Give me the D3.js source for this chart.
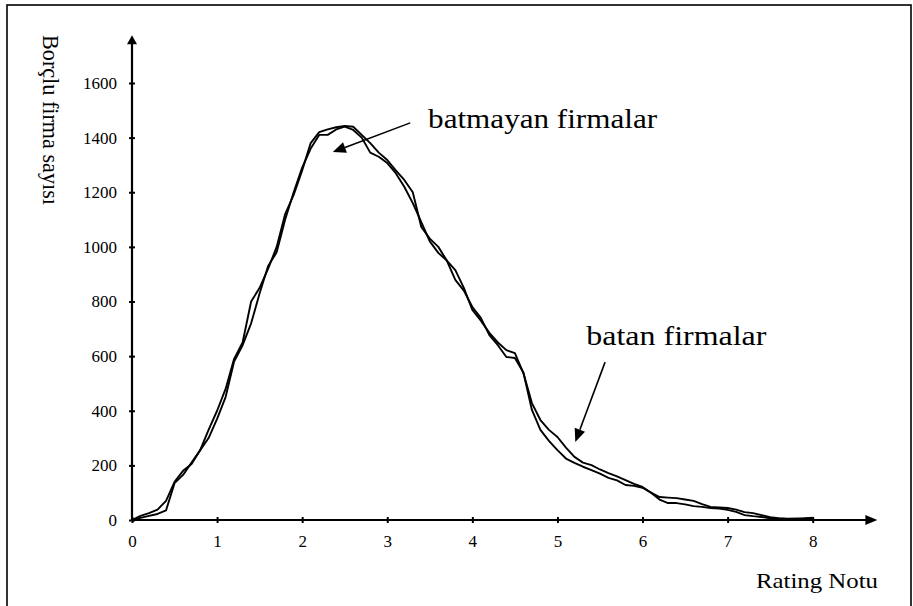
<!DOCTYPE html>
<html>
<head>
<meta charset="utf-8">
<script src="https://cdn.jsdelivr.net/npm/d3@7/dist/d3.min.js"></script>
<style>
  html, body { margin: 0; padding: 0; background: #fff; }
  svg { display: block; }
</style>
</head>
<body>
<svg id="chart" width="913" height="606" font-family="Liberation Serif"></svg>
<script>
// ---- data ----
const ratingNotu = [0.0,0.1,0.2,0.3,0.4,0.5,0.6,0.7,0.8,0.9,
  1.0,1.1,1.2,1.3,1.4,1.5,1.6,1.7,1.8,1.9,
  2.0,2.1,2.2,2.3,2.4,2.5,2.6,2.7,2.8,2.9,
  3.0,3.1,3.2,3.3,3.4,3.5,3.6,3.7,3.8,3.9,
  4.0,4.1,4.2,4.3,4.4,4.5,4.6,4.7,4.8,4.9,
  5.0,5.1,5.2,5.3,5.4,5.5,5.6,5.7,5.8,5.9,
  6.0,6.1,6.2,6.3,6.4,6.5,6.6,6.7,6.8,6.9,
  7.0,7.1,7.2,7.3,7.4,7.5,7.6,7.7,7.8,7.9,8.0];

const batanFirmalar = [0,15,25,38,70,140,180,205,255,330,
  400,480,590,650,800,850,920,1000,1120,1190,
  1280,1380,1420,1430,1438,1443,1440,1410,1380,1345,
  1318,1280,1245,1200,1073,1030,1000,950,915,850,
  769,730,685,650,622,611,538,428,366,330,
  304,265,231,210,201,185,172,160,146,132,
  121,100,84,82,80,75,70,58,48,46,
  44,38,29,25,18,10,7,5,5,6,7];

const batmayanFirmalar = [0,8,15,22,35,135,165,210,255,300,
  370,450,580,640,720,830,930,980,1100,1200,
  1290,1360,1410,1410,1430,1440,1428,1400,1345,1330,
  1307,1270,1220,1160,1091,1020,978,950,879,840,
  780,740,677,640,597,593,540,403,330,290,
  256,225,209,195,183,170,154,145,128,125,
  118,100,75,62,62,57,51,48,44,42,
  37,30,18,14,11,6,5,4,5,6,8];

const xTicks = [0,1,2,3,4,5,6,7,8];
const yTicks = [0,200,400,600,800,1000,1200,1400,1600];

// ---- layout ----
const FONT = "Liberation Serif";
const svg = d3.select("#chart");
const x = d3.scaleLinear().domain([0, 8]).range([132, 812.7]);
const y = d3.scaleLinear().domain([0, 1600]).range([520, 83]);

// frame
svg.append("rect")
  .attr("x", 7).attr("y", 5).attr("width", 904).attr("height", 606)
  .attr("fill", "none").attr("stroke", "#000").attr("stroke-width", 1.6);

// x axis
const xAxis = svg.append("g").attr("transform", `translate(0,${y(0)})`)
  .call(d3.axisBottom(x).tickValues(xTicks).tickSize(3).tickPadding(12).tickFormat(d3.format("d")));
xAxis.attr("font-family", FONT).attr("font-size", null);
xAxis.select(".domain").remove();
xAxis.selectAll(".tick line").attr("y1", -3).attr("y2", 3).attr("stroke-width", 2);
xAxis.selectAll("text").attr("font-size", "17px").attr("font-family", FONT).attr("fill", "#000");

// y axis
const yAxis = svg.append("g").attr("transform", `translate(${x(0)},0)`)
  .call(d3.axisLeft(y).tickValues(yTicks).tickSize(3).tickPadding(12).tickFormat(d3.format("d")));
yAxis.attr("font-family", FONT).attr("font-size", null);
yAxis.select(".domain").remove();
yAxis.selectAll(".tick line").attr("x1", -3).attr("x2", 3).attr("stroke-width", 2);
yAxis.selectAll("text").attr("font-size", "17px").attr("font-family", FONT).attr("fill", "#000");

// axis lines with arrow heads
const xEnd = x(8.76), yEnd = y(1775);
svg.append("line").attr("x1", x(0)).attr("y1", y(0)).attr("x2", xEnd - 10).attr("y2", y(0))
  .attr("stroke", "#000").attr("stroke-width", 2.2);
svg.append("path")
  .attr("d", `M${xEnd},${y(0)} L${xEnd - 12},${y(0) - 5} L${xEnd - 12},${y(0) + 5} Z`)
  .attr("fill", "#000");
svg.append("line").attr("x1", x(0)).attr("y1", y(0)).attr("x2", x(0)).attr("y2", yEnd + 8)
  .attr("stroke", "#000").attr("stroke-width", 2.2);
svg.append("path")
  .attr("d", `M${x(0)},${yEnd} L${x(0) - 5},${yEnd + 9} L${x(0) + 5},${yEnd + 9} Z`)
  .attr("fill", "#000");

// series lines
const line = d3.line()
  .x((d, i) => x(ratingNotu[i]))
  .y(d => y(d))
  .curve(d3.curveLinear);

[batanFirmalar, batmayanFirmalar].forEach(series => {
  svg.append("path")
    .datum(series)
    .attr("d", line)
    .attr("fill", "none")
    .attr("stroke", "#000")
    .attr("stroke-width", 1.9)
    .attr("stroke-linejoin", "round");
});

// annotation arrows
function arrow(x1, y1, x2, y2) {
  const ang = Math.atan2(y2 - y1, x2 - x1);
  const hl = 13, hw = 5.5;
  const bx = x2 - hl * Math.cos(ang), by = y2 - hl * Math.sin(ang);
  svg.append("line").attr("x1", x1).attr("y1", y1).attr("x2", bx).attr("y2", by)
    .attr("stroke", "#000").attr("stroke-width", 1.6);
  const px = -Math.sin(ang) * hw, py = Math.cos(ang) * hw;
  svg.append("path")
    .attr("d", `M${x2},${y2} L${bx + px},${by + py} L${bx - px},${by - py} Z`)
    .attr("fill", "#000");
}
arrow(x(3.27), y(1454), x(2.36), y(1347));
arrow(x(5.56), y(578), x(5.21), y(286));

// annotation texts
svg.append("text").attr("x", x(3.48)).attr("y", y(1435))
  .attr("font-family", FONT).attr("font-size", "28px")
  .attr("textLength", 229).attr("lengthAdjust", "spacingAndGlyphs")
  .text("batmayan firmalar");
svg.append("text").attr("x", x(5.34)).attr("y", y(641))
  .attr("font-family", FONT).attr("font-size", "28px")
  .attr("textLength", 180).attr("lengthAdjust", "spacingAndGlyphs")
  .text("batan firmalar");

// axis titles
svg.append("text").attr("x", 756).attr("y", 588)
  .attr("font-family", FONT).attr("font-size", "22px")
  .attr("textLength", 122).attr("lengthAdjust", "spacingAndGlyphs")
  .text("Rating Notu");
svg.append("text")
  .attr("transform", "translate(43,35) rotate(90)")
  .attr("font-family", FONT).attr("font-size", "23px")
  .attr("textLength", 170).attr("lengthAdjust", "spacingAndGlyphs")
  .text("Borçlu firma sayısı");
</script>
</body>
</html>
